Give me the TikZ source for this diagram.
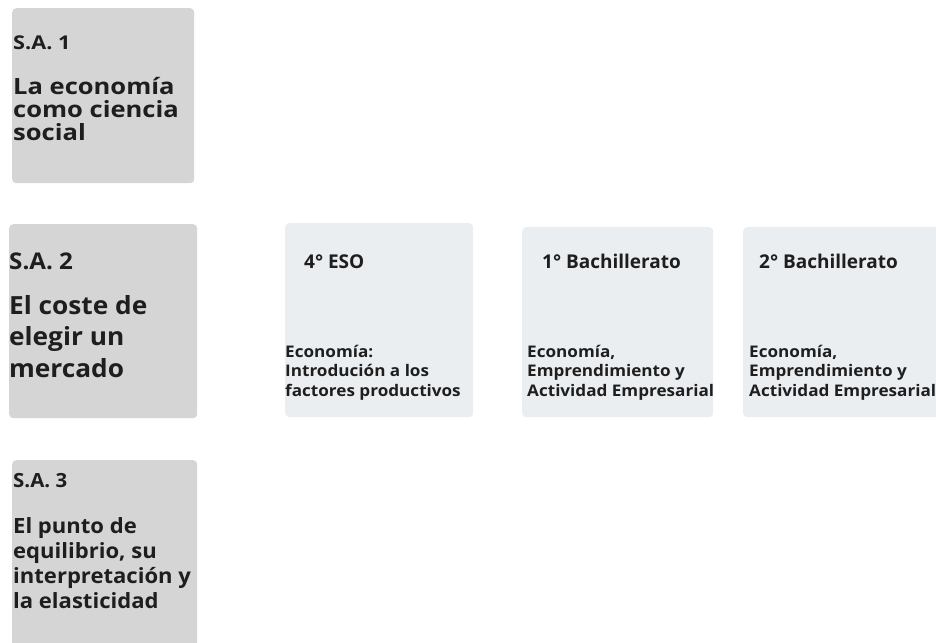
\documentclass[tikz,border=0pt]{standalone}
\usepackage{fontspec}
\setmainfont{Open Sans}
\newfontfamily\faceone{Open Sans}[FakeStretch=1.14]
\newfontfamily\facetwo{Open Sans}[FakeStretch=1.05]
\newfontfamily\facethree{Open Sans}[FakeStretch=1.05]
\newfontfamily\facecard{Open Sans}[FakeStretch=1.07]
\definecolor{sagray}{HTML}{D5D5D5}
\definecolor{cardgray}{HTML}{EBEEF1}
\definecolor{ink}{HTML}{1E1E1E}
\newcommand{\fs}[2]{\fontsize{#1}{#2}\selectfont\bfseries}

\begin{document}
\begin{tikzpicture}[x=1pt,y=-1pt,
    sabox/.style={fill=sagray,rounded corners=4pt,anchor=north west,inner sep=0pt},
    cardbox/.style={fill=cardgray,rounded corners=4pt,anchor=north west,inner sep=0pt},
    txt/.style={anchor=base west,inner sep=0pt,align=left,text=ink}]
    \clip (0,0) rectangle (936,642);
    % situaciones de aprendizaje (base = last line)
    \node[sabox,minimum width=182pt,minimum height=175pt] (sa1) at (12,8) {};
    \node[sabox,minimum width=188pt,minimum height=194pt] (sa2) at (9,224) {};
    \node[sabox,minimum width=185pt,minimum height=200pt] (sa3) at (12,460) {};
    \node[txt,font=\faceone\fs{19}{24}] (sa1t) at (13,49) {S.A. 1};
    \node[txt,font=\faceone\fs{22.4}{23}] (sa1b) at (13,140) {La economía\\como ciencia\\social};
    \node[txt,font=\facetwo\fs{23}{26}] (sa2t) at (9,269) {S.A. 2};
    \node[txt,font=\facetwo\fs{25}{31.5}] (sa2b) at (9,377) {El coste de\\elegir un\\mercado};
    \node[txt,font=\facethree\fs{19.5}{23}] (sa3t) at (13,487) {S.A. 3};
    \node[txt,font=\facethree\fs{21}{25}] (sa3b) at (13,608) {El punto de\\equilibrio, su\\interpretación y\\la elasticidad};
    % cursos
    \node[cardbox,minimum width=188pt,minimum height=194pt] (eso) at (285,223) {};
    \node[cardbox,minimum width=191pt,minimum height=190pt] (bach1) at (522,227) {};
    \node[cardbox,minimum width=200pt,minimum height=190pt] (bach2) at (743,227) {};
    \node[txt,font=\fs{19}{23}] (esot) at (304,268) {4° ESO};
    \node[txt,font=\facecard\fs{16}{19.5}] (esob) at (285,396) {Economía:\\Introdución a los\\factores productivos};
    \node[txt,font=\fs{19}{23}] (bach1t) at (542,268) {1° Bachillerato};
    \node[txt,font=\facecard\fs{16}{19.5}] (bach1b) at (527,396) {Economía,\\Emprendimiento y\\Actividad Empresarial};
    \node[txt,font=\fs{19}{23}] (bach2t) at (759,268) {2° Bachillerato};
    \node[txt,font=\facecard\fs{16}{19.5}] (bach2b) at (749,396) {Economía,\\Emprendimiento y\\Actividad Empresarial};
\end{tikzpicture}
\end{document}
